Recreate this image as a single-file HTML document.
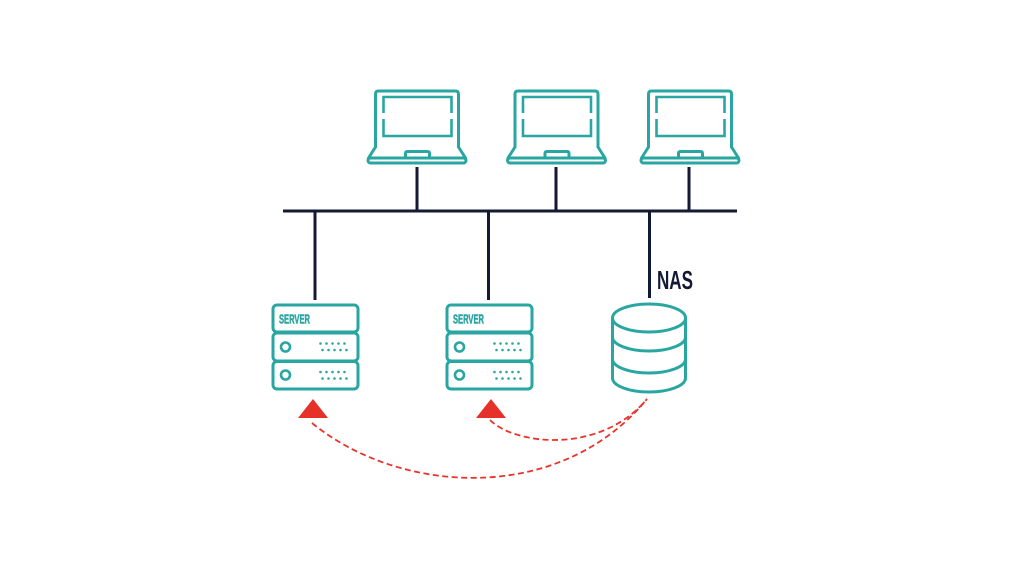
<!DOCTYPE html>
<html>
<head>
<meta charset="utf-8">
<style>
html,body{margin:0;padding:0;background:#fff;}
svg{display:block;}
</style>
</head>
<body>
<svg width="1024" height="576" viewBox="0 0 1024 576" xmlns="http://www.w3.org/2000/svg">
<rect width="1024" height="576" fill="#ffffff"/>
<defs>
  <g id="laptop" fill="none" stroke="#2aa6a2" stroke-width="3" stroke-linejoin="round" stroke-linecap="round">
    <path d="M0,147 L0,94 Q0,91 3,91 L80,91 Q83,91 83,94 L83,147"/>
    <path d="M0,147 L-7,158 M83,147 L90,158"/>
    <rect x="-7.5" y="158" width="98" height="5" rx="2.5"/>
    <path d="M30,158 L30,153.5 Q30,151.5 32,151.5 L52,151.5 Q54,151.5 54,153.5 L54,158"/>
    <path d="M8,113 L8,97 L76,97 L76,113 M76,119 L76,136 L8,136 L8,119" stroke-width="2.6" stroke-linecap="butt" stroke-linejoin="miter"/>
  </g>
  <g id="server">
    <g fill="none" stroke="#2aa6a2" stroke-width="3">
      <rect x="1.5" y="1.5" width="85" height="27" rx="4"/>
      <rect x="1.5" y="29.5" width="85" height="28" rx="4"/>
      <rect x="1.5" y="58" width="85" height="27.5" rx="4"/>
      <circle cx="14" cy="43.5" r="4.5" stroke-width="2.6"/>
      <circle cx="14" cy="71.5" r="4.5" stroke-width="2.6"/>
    </g>
    <text x="7.5" y="20" font-family="Liberation Sans, sans-serif" font-weight="bold" font-size="12.5" fill="#2aa6a2" stroke="#2aa6a2" stroke-width="0.5" textLength="31" lengthAdjust="spacingAndGlyphs">SERVER</text>
    <g fill="#2aa6a2">
      <circle cx="49" cy="40" r="1.3"/><circle cx="55" cy="40" r="1.3"/><circle cx="61" cy="40" r="1.3"/><circle cx="67" cy="40" r="1.3"/><circle cx="73" cy="40" r="1.3"/>
      <circle cx="51" cy="46.5" r="1.3"/><circle cx="57" cy="46.5" r="1.3"/><circle cx="63" cy="46.5" r="1.3"/><circle cx="69" cy="46.5" r="1.3"/><circle cx="75" cy="46.5" r="1.3"/>
      <circle cx="49" cy="68.5" r="1.3"/><circle cx="55" cy="68.5" r="1.3"/><circle cx="61" cy="68.5" r="1.3"/><circle cx="67" cy="68.5" r="1.3"/><circle cx="73" cy="68.5" r="1.3"/>
      <circle cx="51" cy="75" r="1.3"/><circle cx="57" cy="75" r="1.3"/><circle cx="63" cy="75" r="1.3"/><circle cx="69" cy="75" r="1.3"/><circle cx="75" cy="75" r="1.3"/>
    </g>
  </g>
</defs>

<use href="#laptop" transform="translate(375.5,0)"/>
<use href="#laptop" transform="translate(515,0)"/>
<use href="#laptop" transform="translate(648.5,0)"/>

<g stroke="#141a33" stroke-width="3" fill="none">
  <line x1="283" y1="211" x2="737" y2="211"/>
  <line x1="417" y1="167" x2="417" y2="211"/>
  <line x1="556" y1="167" x2="556" y2="211"/>
  <line x1="689" y1="167" x2="689" y2="211"/>
  <line x1="315" y1="211" x2="315" y2="300"/>
  <line x1="488.5" y1="211" x2="488.5" y2="300"/>
  <line x1="649.5" y1="211" x2="649.5" y2="298"/>
</g>

<text x="657" y="289" font-family="Liberation Sans, sans-serif" font-weight="bold" font-size="26" fill="#141a33" textLength="36" lengthAdjust="spacingAndGlyphs">NAS</text>

<use href="#server" transform="translate(271.5,303.5)"/>
<use href="#server" transform="translate(445.5,303.5)"/>

<g fill="none" stroke="#2aa6a2" stroke-width="3">
  <ellipse cx="649" cy="318" rx="36.5" ry="14"/>
  <path d="M612.5,318 L612.5,378 M685.5,318 L685.5,378"/>
  <path d="M612.5,337 A36.5,14 0 0 0 685.5,337"/>
  <path d="M612.5,359 A36.5,14 0 0 0 685.5,359"/>
  <path d="M612.5,378 A36.5,14 0 0 0 685.5,378"/>
</g>

<polygon points="313,399 328,418 298,418" fill="#e53127"/>
<polygon points="491,399 506,418 476,418" fill="#e53127"/>

<g fill="none" stroke="#e8342b" stroke-width="1.8" stroke-dasharray="6,3.5">
  <path d="M312,423 C400,495 560,505 647,399"/>
  <path d="M490,420 C515,445 600,455 647,399"/>
</g>
</svg>
</body>
</html>
